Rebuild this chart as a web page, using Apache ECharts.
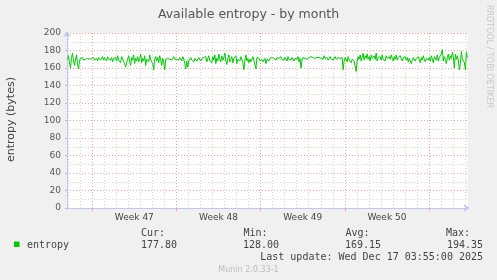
<!DOCTYPE html>
<html>
<head>
<meta charset="utf-8">
<script src="https://cdn.jsdelivr.net/npm/echarts@6/dist/echarts.min.js"></script>
<style>
html,body{margin:0;padding:0;background:#f0f0f0;}
#c{width:497px;height:280px;}
</style>
</head>
<body>
<div id="c"></div>
<script>
// ---- data ----
const titleText = 'Available entropy - by month';
const yAxisName = 'entropy (bytes)';
const sideText = 'RRDTOOL / TOBI OETIKER';
const footerText = 'Munin 2.0.33-1';
const lastUpdateText = 'Last update: Wed Dec 17 03:55:00 2025';
const seriesName = 'entropy';
const weekLabels = ['Week 47', 'Week 48', 'Week 49', 'Week 50'];
const weekStarts = [0, 7, 14, 21, 28];          // days (Mon 00:00 boundaries)
const weekCenters = [3.5, 10.5, 17.5, 24.5];    // days, label anchors
const xStartDay = -2.1;                          // first sample time (days)
const xEndDay = 31.2;
const sampleStepDays = 2 / 24;                   // 2-hour consolidation
const yMin = 0, yMax = 200, yStep = 20;
const statLabels = ['Cur:', 'Min:', 'Avg:', 'Max:'];
const statValues = ['177.80', '128.00', '169.15', '194.35'];
const entropy = [
  170,174,166,160,172,177,168,163,170,175,164,159,
  168,171,170,172,169,171,170,168,171,172,170,169,
  171,170,172,169,170,171,168,172,170,169,171,173,
  169,172,170,168,173,170,171,169,172,167,171,170,
  172,168,174,169,171,166,173,170,168,165,161,166,
  170,174,168,163,172,169,175,165,171,168,173,167,
  170,176,166,171,168,174,163,170,172,167,175,169,
  171,165,158,170,173,168,172,166,174,169,163,171,
  167,158,170,172,171,173,170,172,169,171,173,170,
  172,170,171,169,172,170,168,173,170,165,159,168,
  161,168,170,172,169,170,167,171,173,168,170,172,
  170,168,171,169,172,170,173,167,171,174,168,170,
  166,173,169,175,165,171,168,176,170,167,174,169,
  172,177,168,164,171,175,167,170,173,166,171,169,
  174,165,170,168,168,173,170,166,158,169,175,168,
  171,166,170,167,168,173,169,170,159,172,170,171,
  168,166,170,167,169,171,165,170,172,168,171,170,
  172,170,171,173,169,172,170,171,169,173,170,172,
  169,172,171,168,173,170,171,169,172,170,168,171,
  172,170,173,167,171,160,169,172,170,171,172,170,
  171,172,170,173,171,172,170,171,173,172,170,172,
  173,171,172,170,174,171,170,172,169,171,173,170,
  172,169,171,173,170,168,172,170,171,169,172,158,
  168,172,170,167,173,169,171,166,170,172,168,170,
  156,168,173,170,175,168,172,177,169,174,171,176,
  170,173,168,175,171,169,174,170,177,168,172,170,
  173,169,175,170,172,168,174,171,169,173,170,175,
  171,168,173,170,175,169,172,170,174,171,168,172,
  170,173,169,172,167,171,170,165,169,172,170,168,
  171,169,173,170,166,172,169,174,170,167,171,173,
  169,172,168,174,170,166,173,171,169,175,168,172,
  170,176,181,168,173,170,165,172,176,169,174,171,
  178,172,160,176,170,174,168,158,165,179,170,172,
  166,158,178,172
];

// ---- build ----
const points = entropy.map((v, i) => [xStartDay + (i + 0.5) * sampleStepDays, v]);
const dayLines = [];
for (let d = Math.ceil(xStartDay); d <= Math.floor(xEndDay); d++) {
  if (weekStarts.indexOf(d) < 0) dayLines.push(d);
}

const sans = 'DejaVu Sans';
const mono = 'DejaVu Sans Mono';
const axisBlue = '#c4c4f2';
const majorRed = '#f2a0a0';
const minorGray = '#d4d4d4';
const txt = '#444';

const chart = echarts.init(document.getElementById('c'), null, {renderer: 'canvas'});

const g = [];
g.push({type: 'rect', shape: {x: 14, y: 241.5, width: 5.5, height: 5.5}, style: {fill: '#00cc00'}});
g.push({type: 'text', x: 27, y: 245.5, style: {text: seriesName, font: '10px ' + mono, fill: txt, verticalAlign: 'middle'}});
const statCols = [
  {x: 141, align: 'left', vx: 141},
  {x: 243.5, align: 'left', vx: 243},
  {x: 345.5, align: 'left', vx: 345},
  {x: 470, align: 'right', vx: 483}
];
statLabels.forEach((l, i) => {
  g.push({type: 'text', x: statCols[i].x, y: 233.5, style: {text: l, font: '10px ' + mono, fill: txt, align: statCols[i].align, verticalAlign: 'middle'}});
  g.push({type: 'text', x: statCols[i].vx, y: 245.5, style: {text: statValues[i], font: '10px ' + mono, fill: txt, align: statCols[i].align, verticalAlign: 'middle'}});
});
g.push({type: 'text', x: 483, y: 257.5, style: {text: lastUpdateText, font: '10px ' + mono, fill: txt, align: 'right', verticalAlign: 'middle'}});
g.push({type: 'text', x: 248.5, y: 269.5, style: {text: footerText, font: '8px ' + sans, fill: '#bdbdbd', align: 'center', verticalAlign: 'middle'}});
g.push({type: 'text', x: 11, y: 119.5, rotation: Math.PI / 2, style: {text: yAxisName, font: '11px ' + sans, fill: txt, align: 'center', verticalAlign: 'middle'}});
g.push({type: 'text', x: 489.5, y: 56.5, rotation: -Math.PI / 2, style: {text: sideText, font: '8px ' + sans, fill: '#c8c8c8', align: 'center', verticalAlign: 'middle'}});

chart.setOption({
  animation: false,
  backgroundColor: '#f0f0f0',
  title: {
    text: titleText, left: 'center', top: 3,
    textStyle: {fontFamily: sans, fontSize: 12.5, fontWeight: 'normal', color: '#555'}
  },
  grid: {left: 67, right: 29.5, top: 33, bottom: 72, show: true, backgroundColor: '#ffffff', borderWidth: 0},
  xAxis: [
    {
      type: 'value', min: xStartDay, max: xEndDay,
      axisLine: {show: true, onZero: false, lineStyle: {color: axisBlue, width: 1}, symbol: ['none', 'arrow'], symbolSize: [6, 6], symbolOffset: [0, 2]},
      axisTick: {show: false},
      axisLabel: {show: false},
      splitLine: {show: false},
      z: 3
    },
    {
      type: 'value', min: xStartDay, max: xEndDay, position: 'bottom',
      axisLine: {show: false, onZero: false},
      axisTick: {show: true, customValues: weekStarts, length: 3, lineStyle: {color: majorRed}},
      axisLabel: {
        show: true, customValues: weekCenters, margin: 5,
        fontFamily: sans, fontSize: 9, color: txt,
        formatter: v => weekLabels[weekCenters.indexOf(v)] || ''
      },
      splitLine: {show: true, lineStyle: {color: majorRed, type: [1, 2], width: 1}},
      z: 4
    }
  ],
  yAxis: {
    type: 'value', min: yMin, max: yMax, interval: yStep,
    axisLine: {show: true, onZero: false, lineStyle: {color: axisBlue, width: 1}, symbol: ['none', 'arrow'], symbolSize: [6, 6], symbolOffset: [0, 2]},
    axisTick: {show: true, length: 2, lineStyle: {color: '#bbbbbb'}},
    axisLabel: {fontFamily: sans, fontSize: 9, color: '#555', margin: 6},
    splitLine: {show: true, lineStyle: {color: majorRed, type: [1, 2], width: 1}},
    minorTick: {show: false, splitNumber: 2},
    minorSplitLine: {show: true, lineStyle: {color: minorGray, type: [1, 2], width: 1}}
  },
  series: [
    {
      name: 'dayGrid', type: 'line', data: [], xAxisIndex: 0, silent: true, z: 1,
      markLine: {
        silent: true, symbol: ['none', 'none'], animation: false,
        label: {show: false},
        lineStyle: {color: minorGray, type: [1, 2], width: 1},
        data: dayLines.map(d => ({xAxis: d}))
      }
    },
    {
      name: seriesName, type: 'line', data: points, xAxisIndex: 0,
      showSymbol: false, symbol: 'none', smooth: false,
      lineStyle: {color: '#00cc00', width: 1},
      z: 5
    }
  ],
  graphic: g
});
</script>
</body>
</html>
